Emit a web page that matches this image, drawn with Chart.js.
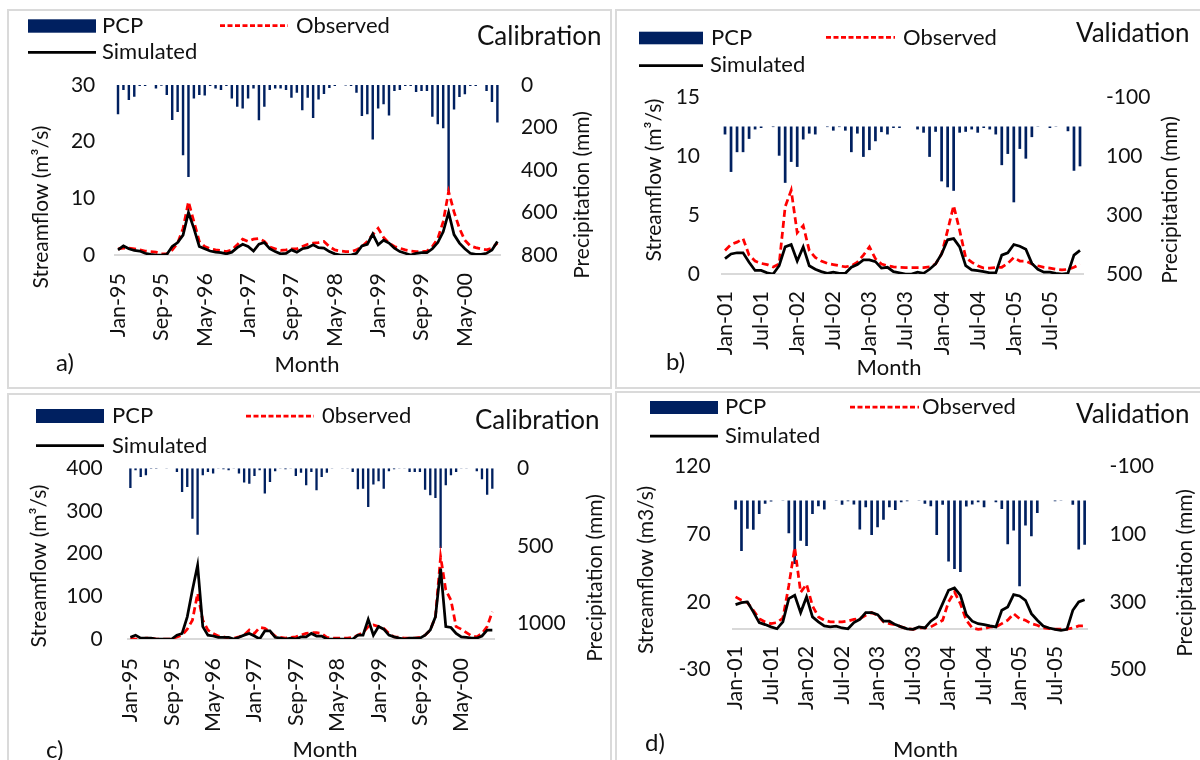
<!DOCTYPE html>
<html><head><meta charset="utf-8">
<script src="https://cdn.jsdelivr.net/npm/chart.js@4.4.1/dist/chart.umd.min.js"></script>
<style>
html,body{margin:0;padding:0;background:#fff;}
#wrap{position:relative;width:1200px;height:760px;overflow:hidden;background:#fff;}
canvas{position:absolute;}
.frame{position:absolute;border:2px solid #dadada;box-sizing:border-box;pointer-events:none;}
</style></head><body>
<div id="wrap">
<canvas id="ca" width="603" height="378" style="left:8px;top:10px"></canvas>
<canvas id="cb" width="584" height="378" style="left:616px;top:10px"></canvas>
<canvas id="cc" width="603" height="366" style="left:8px;top:394px"></canvas>
<canvas id="cd" width="584" height="368" style="left:616px;top:392px"></canvas>
<div class="frame" style="left:7px;top:9px;width:605px;height:380px"></div>
<div class="frame" style="left:615px;top:9px;width:600px;height:380px"></div>
<div class="frame" style="left:7px;top:393px;width:605px;height:380px"></div>
<div class="frame" style="left:615px;top:391px;width:600px;height:380px"></div>
</div>
<script>
// ---------- categories ----------
const monthsCal = ['Jan-95','Feb-95','Mar-95','Apr-95','May-95','Jun-95','Jul-95','Aug-95','Sep-95','Oct-95','Nov-95','Dec-95',
'Jan-96','Feb-96','Mar-96','Apr-96','May-96','Jun-96','Jul-96','Aug-96','Sep-96','Oct-96','Nov-96','Dec-96',
'Jan-97','Feb-97','Mar-97','Apr-97','May-97','Jun-97','Jul-97','Aug-97','Sep-97','Oct-97','Nov-97','Dec-97',
'Jan-98','Feb-98','Mar-98','Apr-98','May-98','Jun-98','Jul-98','Aug-98','Sep-98','Oct-98','Nov-98','Dec-98',
'Jan-99','Feb-99','Mar-99','Apr-99','May-99','Jun-99','Jul-99','Aug-99','Sep-99','Oct-99','Nov-99','Dec-99',
'Jan-00','Feb-00','Mar-00','Apr-00','May-00','Jun-00','Jul-00','Aug-00','Sep-00','Oct-00','Nov-00'];
const monthsVal = ['Jan-01','Feb-01','Mar-01','Apr-01','May-01','Jun-01','Jul-01','Aug-01','Sep-01','Oct-01','Nov-01','Dec-01',
'Jan-02','Feb-02','Mar-02','Apr-02','May-02','Jun-02','Jul-02','Aug-02','Sep-02','Oct-02','Nov-02','Dec-02',
'Jan-03','Feb-03','Mar-03','Apr-03','May-03','Jun-03','Jul-03','Aug-03','Sep-03','Oct-03','Nov-03','Dec-03',
'Jan-04','Feb-04','Mar-04','Apr-04','May-04','Jun-04','Jul-04','Aug-04','Sep-04','Oct-04','Nov-04','Dec-04',
'Jan-05','Feb-05','Mar-05','Apr-05','May-05','Jun-05','Jul-05','Aug-05','Sep-05','Oct-05','Nov-05','Dec-05'];

// ---------- panel a ----------
const pcpA = [138,24,71,55,5,5,0,16,3,47,165,127,331,433,63,47,49,5,16,24,5,63,102,111,63,17,166,102,24,16,16,24,60,36,119,60,155,68,42,14,5,0,2,5,36,146,138,256,110,91,143,28,24,5,5,33,28,28,149,185,204,499,115,56,44,5,5,0,28,80,177];
const obsA = [1.1,1.2,1.2,1.1,0.9,0.7,0.6,0.5,0.2,0.2,0.9,2.1,4.7,9.4,5.9,2.4,1.5,1.1,0.9,0.8,0.6,0.9,1.8,2.8,2.4,2.8,2.9,2.4,1.4,1.1,0.8,0.9,1.1,1.1,1.5,1.9,2.1,2.2,2.4,1.5,0.9,0.7,0.6,0.6,0.9,1.5,2.4,3.6,4.7,3.1,2.1,1.5,1.2,0.9,0.7,0.6,0.6,0.7,1.5,2.9,5.9,11.2,7.6,4.7,2.6,1.6,1.3,1.1,0.9,1.2,2.1];
const simA = [0.9,1.6,1.1,0.8,0.7,0.3,0.1,0,0,0.1,1.5,2.2,3.5,7.5,4.7,1.5,1.1,0.7,0.5,0.4,0.2,0.5,1.3,1.9,1.5,0.7,1.9,2.2,1.1,0.6,0.2,0.3,0.9,0.5,1.1,1.3,1.8,1.3,1.2,0.6,0.2,0,0,0,0.3,1.6,1.9,3.7,1.8,2.6,2.1,1.2,0.6,0.3,0,0.3,0.4,0.4,1.1,2.2,4.1,7.5,3.6,2.1,1.1,0.3,0.1,0.1,0.3,0.9,2.4];

// ---------- panel b ----------
const pcpB = [27,154,87,87,42,10,5,0,2,99,191,120,137,44,24,27,0,2,14,2,14,87,24,103,80,50,19,27,5,5,0,0,10,21,103,18,186,206,218,21,18,10,21,5,10,27,131,93,257,76,109,36,1,0,5,1,0,16,150,135];
const obsB = [2.0,2.5,2.7,3.0,1.6,1.1,0.9,0.8,0.6,0.85,5.7,7.1,3.5,4.1,2.0,1.4,1.1,0.9,0.8,0.7,0.6,0.7,1.0,1.6,2.3,1.3,0.85,0.7,0.6,0.57,0.55,0.55,0.55,0.55,0.6,0.85,1.7,3.7,5.8,3.7,1.4,1.0,0.7,0.5,0.5,0.55,0.57,0.9,1.4,1.1,1.1,0.85,0.7,0.57,0.5,0.4,0.34,0.4,0.57,0.85];
const simB = [1.3,1.7,1.8,1.8,1.0,0.3,0.3,0.1,0,0.7,2.3,2.5,1.1,2.3,0.7,0.4,0.2,0.06,0.15,0.06,0.06,0.57,0.8,1.2,1.2,1.05,0.5,0.57,0.2,0.1,0,0,0.15,0.06,0.4,0.85,1.7,2.9,3.0,2.3,0.7,0.34,0.28,0.2,0.1,0.1,1.6,1.8,2.5,2.35,2.1,0.9,0.4,0.15,0.15,0.06,0,0.06,1.6,2.0];

// ---------- panel c ----------
const pcpC = [127,13,56,45,3,3,0,2,0,24,153,120,325,428,45,24,34,2,6,13,2,34,92,99,49,13,163,88,19,2,6,2,49,28,110,24,142,56,28,2,0,2,2,24,135,131,249,105,84,131,19,6,2,2,24,24,24,138,174,191,514,110,45,24,2,2,0,19,71,170,131];
const obsC = [2,0,0,2,2,0,0,0,0,5,9,23,44,107,44,21,13,7,5,2,2,5,9,21,13,27,25,17,7,4,2,4,5,9,13,15,15,13,4,2,2,2,2,4,9,15,29,33,29,25,13,5,4,2,2,2,4,9,21,52,193,115,91,29,23,15,7,5,13,29,64];
const simC = [4,9,2,2,2,0,0,0,0,9,13,52,115,173,29,9,7,4,4,4,0,4,9,13,7,0,19,19,4,2,0,2,0,5,5,13,7,7,0,0,0,0,0,0,9,9,46,9,29,23,9,5,2,0,2,2,2,9,21,52,165,29,27,13,5,4,2,2,7,21,21];

// ---------- panel d ----------
const pcpD = [27,150,84,87,40,10,3,0,1,97,188,119,135,40,17,27,0,1,13,2,12,86,20,102,79,57,20,28,5,2,0,1,10,17,102,13,181,203,212,18,12,5,20,0,5,25,130,89,254,74,106,37,0,0,2,1,0,13,145,131];
const obsD = [23.6,21.1,19.4,13.7,7.5,5.1,3.8,4.6,8.0,32,60,27,33,17,8.8,6.3,5.1,5.1,5.1,5.8,7.0,7.5,10,12,10,5.1,3.8,3.1,1.4,0,-0.4,0.6,0.6,1.4,3.8,6.3,19.9,27.3,18.6,6.3,0.6,-0.4,0.1,1.4,1.4,3.8,6.3,11.2,7.5,6.3,3.8,2.6,0.6,0.1,-0.2,-0.2,-0.2,0.6,2.1,2.3];
const simD = [17.9,19.4,19.9,12.5,4.6,3.1,1.4,0,5.1,22.3,24.8,12,23.6,8.8,5.1,2.1,1.4,1.9,0.6,0,4.6,7.0,12,12,10.5,5.6,5.6,3.1,1.4,0,-0.4,1.4,0.6,5.6,8.8,18.6,28.5,30.2,24.8,10.5,5.6,3.8,3.1,2.1,1.4,13.7,16.2,25.3,24.3,21.1,11.2,6.3,2.1,0.6,-0.4,-1.1,-0.4,13.7,19.9,21.5];

// ---------- axis tick values ----------
const flowTicksA = [0, 10, 20, 30], pcpTicksA = [0, 200, 400, 600, 800];
const flowTicksB = [0, 5, 10, 15], pcpTicksB = [-100, 100, 300, 500];
const flowTicksC = [0, 100, 200, 300, 400], pcpTicksC = [0, 500, 1000];
const flowTicksD = [-30, 20, 70, 120], pcpTicksD = [-100, 100, 300, 500];

// ---------- styles ----------
const NAVY = '#002060', RED = '#ff0000', BLACK = '#000000', TXT = '#111111', AXIS = '#d9d9d9';
const FONT = "Lato, 'Open Sans', sans-serif";
Chart.defaults.font.family = FONT;
Chart.defaults.color = TXT;

const decorPlugin = {
  id: 'decor',
  afterDraw(chart, args, o) {
    const ctx = chart.ctx, ds = chart.data.datasets, L = o.legend;
    ctx.save();
    ctx.fillStyle = ds[0].backgroundColor;
    ctx.fillRect(L.pcp[0], L.pcp[1], L.pcp[2], L.pcp[3]);
    ctx.lineWidth = 2.75;
    ctx.strokeStyle = ds[1].borderColor; ctx.setLineDash([5, 2.5]);
    ctx.beginPath(); ctx.moveTo(L.obs[0], L.obs[2]); ctx.lineTo(L.obs[1], L.obs[2]); ctx.stroke();
    ctx.setLineDash([]); ctx.strokeStyle = ds[2].borderColor;
    ctx.beginPath(); ctx.moveTo(L.sim[0], L.sim[2]); ctx.lineTo(L.sim[1], L.sim[2]); ctx.stroke();
    ctx.fillStyle = TXT; ctx.textBaseline = 'middle'; ctx.textAlign = 'left';
    ctx.font = '22px ' + FONT;
    ctx.fillText(ds[0].label, L.pcpT[0], L.pcpT[1]);
    ctx.fillText(ds[1].label, L.obsT[0], L.obsT[1]);
    ctx.fillText(ds[2].label, L.simT[0], L.simT[1]);
    ctx.font = '26px ' + FONT;
    ctx.fillText(o.title[0], o.title[1], o.title[2]);
    ctx.font = '24px ' + FONT;
    ctx.fillText(o.letter[0], o.letter[1], o.letter[2]);
    ctx.font = '22px ' + FONT; ctx.textAlign = 'center';
    ctx.fillText(o.month[0], o.month[1], o.month[2]);
    ctx.font = '21px ' + FONT;
    for (const t of [o.yTitle, o.y2Title]) {
      ctx.save(); ctx.translate(t[1], t[2]); ctx.rotate(-Math.PI / 2);
      ctx.fillText(t[0], 0, 0); ctx.restore();
    }
    ctx.restore();
  }
};

function makePanel(id, c) {
  const A = c.area;
  return new Chart(document.getElementById(id), {
    type: 'bar',
    data: {
      labels: c.labels,
      datasets: [
        {type: 'bar', label: 'PCP', data: c.pcp, yAxisID: 'y2', backgroundColor: NAVY, borderWidth: 0, barPercentage: 0.45, categoryPercentage: 1, order: 3},
        {type: 'line', label: c.obsLabel, data: c.obs, yAxisID: 'y', borderColor: RED, borderWidth: 2.75, borderDash: [7, 4], pointRadius: 0, tension: 0, fill: false, order: 2},
        {type: 'line', label: 'Simulated', data: c.sim, yAxisID: 'y', borderColor: BLACK, borderWidth: 2.75, pointRadius: 0, tension: 0, fill: false, order: 1}
      ]
    },
    options: {
      responsive: false, animation: false, devicePixelRatio: 1,
      layout: {padding: {top: A.T, left: 0, right: 0, bottom: c.xFloat ? c.H - A.B : 0}},
      plugins: {legend: {display: false}, tooltip: {enabled: false}, decor: c.decor},
      scales: {
        x: {
          type: 'category', offset: true, position: c.xFloat ? {y: 0} : 'bottom',
          grid: {display: false, drawTicks: false},
          border: {display: true, color: AXIS, width: 2},
          ticks: {autoSkip: false, maxRotation: 90, minRotation: 90, padding: c.xPad, font: {size: 21.5}, color: TXT,
            callback(v, i) { return i % c.every === 0 ? this.getLabelForValue(v) : ''; }},
          afterFit(s) { if (!c.xFloat) s.height = c.H - A.B; }
        },
        y: {
          position: 'left', min: c.yTicks[0], max: c.yTicks[c.yTicks.length - 1],
          afterBuildTicks(s) { s.ticks = c.yTicks.map(v => ({value: v})); },
          ticks: {padding: c.yPad, font: {size: 21}, color: TXT, callback: v => String(v)},
          grid: {display: false, drawTicks: false}, border: {display: false},
          afterFit(s) { s.width = A.L; }
        },
        y2: {
          position: 'right', reverse: true, min: c.y2Range[0], max: c.y2Range[1],
          afterBuildTicks(s) { s.ticks = c.y2Ticks.map(v => ({value: v})); },
          ticks: {padding: c.y2Pad, font: {size: 21}, color: TXT, callback: v => String(v)},
          grid: {display: false, drawTicks: false}, border: {display: false},
          afterFit(s) { s.width = c.W - A.R; }
        }
      }
    },
    plugins: [decorPlugin]
  });
}

makePanel('ca', {
  W: 603, H: 378, area: {L: 107.3, R: 492.1, T: 75, B: 245},
  labels: monthsCal, pcp: pcpA, obs: obsA, sim: simA, obsLabel: 'Observed', every: 8,
  yTicks: flowTicksA, y2Ticks: pcpTicksA, y2Range: [0, 800], yPad: 20, y2Pad: 21, xPad: 18,
  decor: {
    legend: {pcp: [20, 9.3, 68, 13.4], pcpT: [94, 16], obs: [212, 280, 15.5], obsT: [288, 16], sim: [20, 88, 42.3], simT: [94, 42]},
    title: ['Calibration', 469, 27], letter: ['a)', 48, 353], month: ['Month', 299, 355],
    yTitle: ['Streamflow (m\u00B3/s)', 33, 197], y2Title: ['Precipitation (mm)', 574, 185]
  }
});
makePanel('cb', {
  W: 584, H: 378, area: {L: 106, R: 467, T: 87, B: 264},
  labels: monthsVal, pcp: pcpB, obs: obsB, sim: simB, obsLabel: 'Observed', every: 6,
  yTicks: flowTicksB, y2Ticks: pcpTicksB, y2Range: [-100, 500], yPad: 22, y2Pad: 23, xPad: 17,
  decor: {
    legend: {pcp: [23, 21.7, 64, 12.6], pcpT: [95, 28], obs: [210, 279, 27.3], obsT: [287, 28], sim: [23, 87, 55.7], simT: [94, 55]},
    title: ['Validation', 460, 24], letter: ['b)', 50, 352], month: ['Month', 273, 358],
    yTitle: ['Streamflow (m\u00B3/s)', 38, 170], y2Title: ['Precipitation (mm)', 554, 190]
  }
});
makePanel('cc', {
  W: 603, H: 366, area: {L: 119.8, R: 486.9, T: 74.3, B: 245},
  labels: monthsCal, pcp: pcpC, obs: obsC, sim: simC, obsLabel: '0bserved', every: 8,
  yTicks: flowTicksC, y2Ticks: pcpTicksC, y2Range: [0, 1100], yPad: 25, y2Pad: 22, xPad: 19,
  decor: {
    legend: {pcp: [28, 15, 68, 14], pcpT: [104, 22], obs: [238, 306, 22], obsT: [314, 22], sim: [28, 96, 51.7], simT: [104, 51.7]},
    title: ['Calibration', 467, 27], letter: ['c)', 38, 356], month: ['Month', 317, 356],
    yTitle: ['Streamflow (m\u00B3/s)', 31, 172], y2Title: ['Precipitation (mm)', 587, 184]
  }
});
makePanel('cd', {
  W: 584, H: 368, area: {L: 116.6, R: 471.6, T: 74.7, B: 277.3}, xFloat: true,
  labels: monthsVal, pcp: pcpD, obs: obsD, sim: simD, obsLabel: 'Observed', every: 6,
  yTicks: flowTicksD, y2Ticks: pcpTicksD, y2Range: [-100, 500], yPad: 22, y2Pad: 22, xPad: 17,
  decor: {
    legend: {pcp: [34, 9, 68, 13], pcpT: [109, 15], obs: [234, 303, 15], obsT: [306, 15], sim: [34, 102, 44], simT: [109, 44]},
    title: ['Validation', 460, 23], letter: ['d)', 29, 351], month: ['Month', 309.5, 358],
    yTitle: ['Streamflow (m3/s)', 30, 178], y2Title: ['Precipitation (mm)', 569, 181]
  }
});
</script>
</body></html>
